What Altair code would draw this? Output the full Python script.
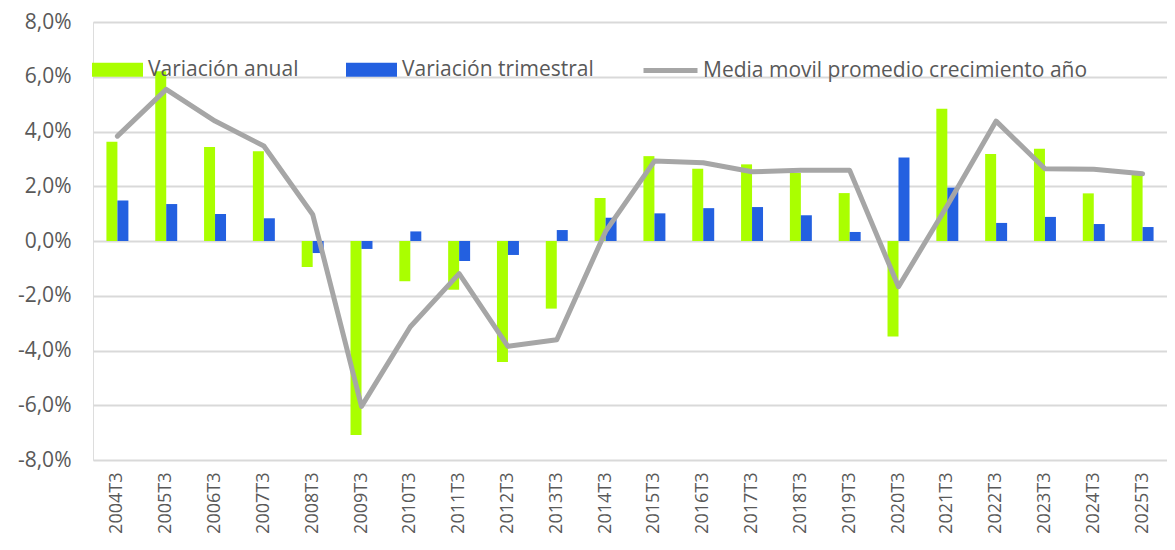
import altair as alt
import pandas as pd

categorias = ["2004T3", "2005T3", "2006T3", "2007T3", "2008T3", "2009T3", "2010T3", "2011T3",
              "2012T3", "2013T3", "2014T3", "2015T3", "2016T3", "2017T3", "2018T3", "2019T3",
              "2020T3", "2021T3", "2022T3", "2023T3", "2024T3", "2025T3"]
variacion_anual = [3.63, 6.20, 3.43, 3.28, -0.95, -7.09, -1.47, -1.78, -4.42, -2.47, 1.57,
                   3.10, 2.64, 2.80, 2.49, 1.75, -3.49, 4.83, 3.18, 3.37, 1.74, 2.43]
variacion_trimestral = [1.48, 1.35, 0.99, 0.83, -0.44, -0.29, 0.35, -0.73, -0.51, 0.40, 0.85,
                        1.01, 1.20, 1.24, 0.94, 0.33, 3.05, 1.95, 0.66, 0.88, 0.62, 0.51]
media_movil = [3.83, 5.54, 4.38, 3.47, 0.97, -6.04, -3.13, -1.19, -3.85, -3.61, 0.35,
               2.92, 2.86, 2.53, 2.58, 2.58, -1.67, 1.30, 4.38, 2.64, 2.62, 2.46]

serie_a = "Variación anual"
serie_t = "Variación trimestral"
serie_m = "Media movil promedio crecimiento año"

bars_df = pd.DataFrame(
    [{"cat": c, "serie": serie_a, "valor": v} for c, v in zip(categorias, variacion_anual)]
    + [{"cat": c, "serie": serie_t, "valor": v} for c, v in zip(categorias, variacion_trimestral)]
)
line_df = pd.DataFrame({"cat": categorias, "serie": serie_m, "valor": media_movil})

FONT = "Open Sans"
TXT = "#595959"

x_enc = alt.X(
    "cat:N", sort=categorias, title=None,
    scale=alt.Scale(paddingInner=0.55, paddingOuter=0.275),
    axis=alt.Axis(labelAngle=-90, labelFontSize=18, labelColor=TXT, labelFont=FONT,
                  ticks=False, domain=False, grid=False, labelPadding=12),
)
y_enc = alt.Y(
    "valor:Q", title=None,
    scale=alt.Scale(domain=[-8, 8], nice=False, zero=False),
    axis=alt.Axis(values=[-8, -6, -4, -2, 0, 2, 4, 6, 8],
                  labelExpr="(datum.value < 0 ? '-' : '') + replace(format(abs(datum.value), '.1f'), '.', ',') + '%'",
                  labelFontSize=21, labelColor=TXT, labelFont=FONT, labelPadding=22,
                  ticks=False, domain=False, gridColor="#d9d9d9", gridWidth=2),
)

rect_path = "M-1,-0.275H1V0.275H-1Z"

bars = alt.Chart(bars_df).mark_bar().encode(
    x=x_enc,
    y=y_enc,
    xOffset=alt.XOffset("serie:N", sort=[serie_a, serie_t],
                        scale=alt.Scale(paddingInner=0, paddingOuter=0)),
    color=alt.Color(
        "serie:N",
        scale=alt.Scale(domain=[serie_a, serie_t], range=["#aaff00", "#2360e0"]),
        legend=alt.Legend(orient="none", legendX=-1, legendY=22, direction="horizontal",
                          title=None, symbolType=rect_path, symbolSize=2601,
                          symbolStrokeWidth=0, labelFontSize=21, labelColor=TXT,
                          labelFont=FONT, labelOffset=5, columnPadding=47, labelLimit=0),
    ),
)

line = alt.Chart(line_df).mark_line(strokeWidth=5, strokeCap="round", strokeJoin="round").encode(
    x=alt.X("cat:N", sort=categorias),
    y=alt.Y("valor:Q"),
    stroke=alt.Stroke(
        "serie:N",
        scale=alt.Scale(domain=[serie_m], range=["#a6a6a6"]),
        legend=alt.Legend(orient="none", legendX=548, legendY=19, direction="horizontal",
                          title=None, symbolType="stroke", symbolSize=2916,
                          symbolStrokeWidth=5, labelFontSize=21, labelColor=TXT,
                          labelFont=FONT, labelOffset=3, labelLimit=0),
    ),
)

chart = alt.layer(bars, line).properties(
    width=1074, height=438,
    autosize=alt.AutoSizeParams(type="none"),
    padding={"left": 85, "top": 14, "right": 0, "bottom": 80},
).configure_view(stroke=None).configure(background="white")

chart.save("out.html", embed_options={"renderer": "svg", "actions": False})
